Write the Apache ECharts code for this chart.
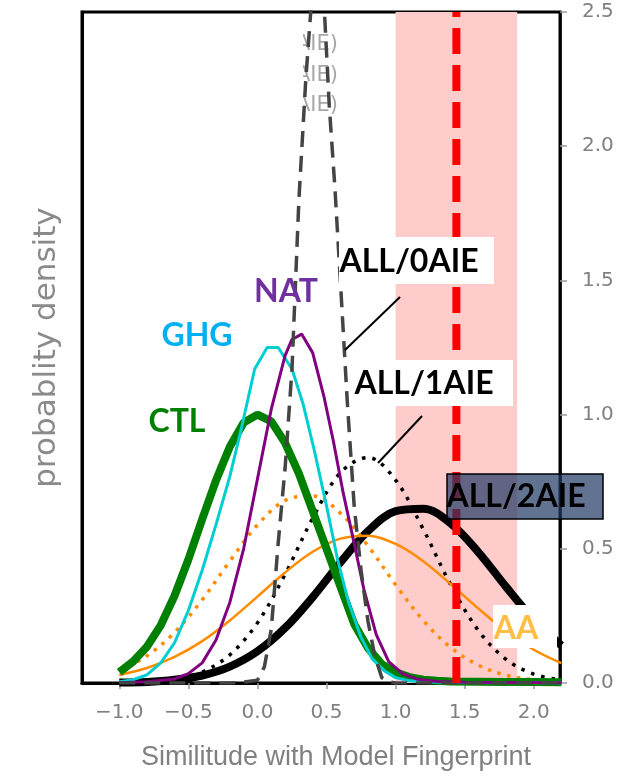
<!DOCTYPE html>
<html>
<head>
<meta charset="utf-8">
<script src="https://cdn.jsdelivr.net/npm/echarts@6/dist/echarts.min.js"></script>
<style>
html, body { margin: 0; padding: 0; background: #fff; }
#chart { width: 643px; height: 776px; }
</style>
</head>
<body>
<div id="chart"></div>
<script>
// values
var xBroad = [-1.0, -0.8, -0.6, -0.4, -0.2, 0.0, 0.2, 0.4, 0.6, 0.8, 1.0, 1.2, 1.4, 1.6, 1.8, 2.0, 2.2];
var aaSolid = [0.030, 0.056, 0.097, 0.156, 0.233, 0.322, 0.412, 0.489, 0.538, 0.549, 0.518, 0.454, 0.368, 0.277, 0.192, 0.124, 0.074];
var aaDotted = [0.045, 0.101, 0.188, 0.31, 0.454, 0.589, 0.68, 0.697, 0.633, 0.511, 0.366, 0.233, 0.132, 0.066, 0.029, 0.012, 0.004];
var all1AIE = [0.001, 0.004, 0.013, 0.041, 0.105, 0.224, 0.405, 0.614, 0.783, 0.84, 0.756, 0.573, 0.365, 0.195, 0.088, 0.033, 0.011];
var all2AIE = [0.002, 0.004, 0.012, 0.028, 0.061, 0.118, 0.205, 0.32, 0.449, 0.566, 0.64, 0.649, 0.594, 0.487, 0.358, 0.237, 0.14];

var ctlX = [-1.0, -0.9, -0.8, -0.7, -0.6, -0.5, -0.4, -0.3, -0.2, -0.1, 0.0, 0.1, 0.2, 0.3, 0.4, 0.5, 0.6, 0.7, 0.8, 0.9, 1.0, 1.1, 1.2, 1.3, 1.4, 1.6, 1.8, 2.0, 2.2];
var ctl = [0.04, 0.08, 0.135, 0.215, 0.325, 0.46, 0.61, 0.755, 0.88, 0.97, 1.0, 0.975, 0.895, 0.78, 0.64, 0.50, 0.36, 0.22, 0.13, 0.07, 0.04, 0.022, 0.012, 0.008, 0.006, 0.005, 0.004, 0.004, 0.003];

var ghgX = [-1.0, -0.9, -0.8, -0.7, -0.6, -0.5, -0.4, -0.3, -0.2, -0.12, -0.02, 0.07, 0.15, 0.25, 0.33, 0.41, 0.5, 0.58, 0.66, 0.75, 0.83, 0.92, 1.0, 1.1, 1.3, 1.6, 2.2];
var ghg = [0.005, 0.012, 0.03, 0.075, 0.15, 0.27, 0.42, 0.59, 0.77, 0.94, 1.17, 1.25, 1.25, 1.17, 1.04, 0.87, 0.66, 0.46, 0.30, 0.17, 0.09, 0.045, 0.02, 0.008, 0.003, 0.002, 0.001];

var natX = [-1.0, -0.8, -0.6, -0.5, -0.4, -0.3, -0.2, -0.1, 0.0, 0.1, 0.2, 0.25, 0.32, 0.4, 0.48, 0.55, 0.62, 0.7, 0.77, 0.86, 0.95, 1.05, 1.15, 1.3, 1.5, 2.2];
var nat = [0.001, 0.005, 0.015, 0.035, 0.075, 0.16, 0.30, 0.50, 0.76, 1.02, 1.22, 1.28, 1.30, 1.23, 1.07, 0.90, 0.71, 0.52, 0.35, 0.18, 0.08, 0.035, 0.015, 0.006, 0.003, 0.001];

var all0X = [-1.0, -0.5, -0.2, -0.1, 0.0, 0.05, 0.1, 0.15, 0.2, 0.25, 0.3, 0.35, 0.4, 0.44, 0.48, 0.52, 0.56, 0.6, 0.65, 0.7, 0.75, 0.8, 0.85, 0.9, 0.95, 1.0, 2.2];
var all0AIE = [0, 0, 0, 0.003, 0.01, 0.06, 0.2, 0.52, 0.8, 1.17, 1.8, 2.25, 2.6, 2.75, 2.55, 2.15, 1.85, 1.5, 1.05, 0.66, 0.42, 0.23, 0.1, 0.02, 0.005, 0, 0];

var observed = 1.44;          // red dashed line
var band = [1.0, 1.88];       // pink range
var xTicks = [-1.0, -0.5, 0.0, 0.5, 1.0, 1.5, 2.0];
var legendNames = ['ALL(0AIE)', 'ALL(1AIE)', 'ALL(2AIE)'];

function pairs(xs, ys) {
    return xs.map(function (x, i) { return [x, ys[i]]; });
}

function curve(name, xs, ys, color, width, type, smooth) {
    return {
        name: name,
        type: 'line',
        data: pairs(xs, ys),
        showSymbol: false,
        smooth: smooth || false,
        lineStyle: { color: color, width: width, type: type || 'solid' },
        silent: true
    };
}

var chart = echarts.init(document.getElementById('chart'));

var option = {
    animation: false,
    grid: { left: 82, right: 83, top: 12, bottom: 93, show: true, borderColor: '#000', borderWidth: 3, backgroundColor: 'transparent' },
    xAxis: {
        type: 'value',
        min: -1.27,
        max: 2.19,
        axisLine: { onZero: false, lineStyle: { color: '#000', width: 3 } },
        axisTick: { customValues: xTicks, length: 6, lineStyle: { color: '#999', width: 1.5 } },
        axisLabel: {
            customValues: xTicks,
            margin: 20,
            color: '#808080',
            fontSize: 20,
            fontFamily: 'DejaVu Sans',
            formatter: function (v) { return (v < 0 ? '\u2212' : '') + Math.abs(v).toFixed(1); }
        },
        splitLine: { show: false },
        name: 'Similitude with Model Fingerprint',
        nameLocation: 'middle',
        nameGap: 61,
        nameTextStyle: { color: '#808080', fontSize: 27, fontFamily: 'Liberation Sans', padding: [0, 0, 0, 30] }
    },
    yAxis: [{
        type: 'value',
        position: 'right',
        min: 0,
        max: 2.5,
        interval: 0.5,
        axisLine: { show: true, onZero: false, lineStyle: { color: '#000', width: 2.5 } },
        axisTick: { show: true, length: 7, lineStyle: { color: '#999', width: 1.5 } },
        axisLabel: {
            margin: 22,
            color: '#808080',
            fontSize: 20,
            fontFamily: 'DejaVu Sans',
            formatter: function (v) { return v.toFixed(1); }
        },
        splitLine: { show: false }
    }, {
        type: 'value',
        position: 'left',
        min: 0,
        max: 2.5,
        axisLine: { show: true, onZero: false, lineStyle: { color: '#000', width: 3 } },
        axisTick: { show: false },
        axisLabel: { show: false },
        splitLine: { show: false },
        name: 'probablity density',
        nameLocation: 'middle',
        nameRotate: 90,
        nameGap: 20,
        nameTextStyle: { color: '#8a8a8a', fontSize: 31, fontFamily: 'DejaVu Sans' }
    }],
    series: [
        {
            type: 'line',
            data: [],
            z: 1,
            markArea: {
                silent: true,
                itemStyle: { color: '#FFCCCC' },
                data: [[{ xAxis: band[0] }, { xAxis: band[1] }]]
            }
        },
        curve('ALL/2AIE', xBroad, all2AIE, '#000', 8, 'solid', 0.35),
        curve('ALL/1AIE', xBroad, all1AIE, '#000', 3.5, [3.5, 7], 0.35),
        curve('AA', xBroad, aaSolid, '#FF8C00', 2.5, 'solid', 0.35),
        curve('AA dotted', xBroad, aaDotted, '#FF8C00', 3.5, [3.5, 6.5], 0.35),
        curve('CTL', ctlX, ctl, '#008000', 8, 'solid', false),
        curve('GHG', ghgX, ghg, '#00CED1', 3, 'solid', false),
        curve('NAT', natX, nat, '#800080', 3, 'solid', false),
        curve('ALL/0AIE', all0X, all0AIE, '#444444', 3.5, [16, 9], false),
        {
            type: 'line',
            data: [[observed, 0], [observed, 2.5]],
            showSymbol: false,
            silent: true,
            lineStyle: { color: '#FF0000', width: 8, type: [26, 11] }
        }
    ],
    graphic: [
        // legend that was covered over in the original
        { type: 'text', z: 0, style: { text: legendNames[0], x: 338, y: 45, align: 'right', verticalAlign: 'middle', fill: '#000', font: '21px "DejaVu Sans"' } },
        { type: 'text', z: 0, style: { text: legendNames[1], x: 338, y: 76, align: 'right', verticalAlign: 'middle', fill: '#000', font: '21px "DejaVu Sans"' } },
        { type: 'text', z: 0, style: { text: legendNames[2], x: 338, y: 106, align: 'right', verticalAlign: 'middle', fill: '#000', font: '21px "DejaVu Sans"' } },
        { type: 'rect', z: 1, shape: { x: 180, y: 27, width: 123, height: 95 }, style: { fill: '#fff' } },
        { type: 'rect', z: 3, shape: { x: 285, y: 27, width: 61, height: 285 }, style: { fill: 'rgba(255,255,255,0.65)' } },

        // annotation boxes
        { type: 'rect', z: 10, shape: { x: 339, y: 237, width: 155, height: 47 }, style: { fill: '#fff' } },
        { type: 'rect', z: 10, shape: { x: 352, y: 360, width: 161, height: 46 }, style: { fill: '#fff' } },
        { type: 'rect', z: 10, shape: { x: 493, y: 605, width: 64, height: 43 }, style: { fill: '#fff' } },
        { type: 'rect', z: 12, shape: { x: 447, y: 474, width: 156, height: 45 }, style: { fill: 'rgba(31,56,100,0.7)', stroke: '#000', lineWidth: 1.5 } },

        { type: 'line', z: 11, shape: { x1: 400, y1: 297, x2: 345, y2: 350 }, style: { stroke: '#000', lineWidth: 2 } },
        { type: 'line', z: 11, shape: { x1: 422, y1: 416, x2: 378, y2: 463 }, style: { stroke: '#000', lineWidth: 2 } },

        { type: 'text', z: 11, style: { text: 'ALL/0AIE', x: 409, y: 262, align: 'center', verticalAlign: 'middle', fill: '#000', font: 'bold 32px Lato' } },
        { type: 'text', z: 11, style: { text: 'ALL/1AIE', x: 424, y: 384, align: 'center', verticalAlign: 'middle', fill: '#000', font: 'bold 32px Lato' } },
        { type: 'text', z: 13, style: { text: 'ALL/2AIE', x: 516, y: 497, align: 'center', verticalAlign: 'middle', fill: '#000', font: 'bold 32px Lato' } },
        { type: 'text', z: 11, style: { text: 'NAT', x: 286, y: 292, align: 'center', verticalAlign: 'middle', fill: '#7030A0', font: 'bold 32px Lato' } },
        { type: 'text', z: 11, style: { text: 'GHG', x: 197, y: 336, align: 'center', verticalAlign: 'middle', fill: '#00B0F0', font: 'bold 32px Lato' } },
        { type: 'text', z: 11, style: { text: 'CTL', x: 177, y: 422, align: 'center', verticalAlign: 'middle', fill: '#008000', font: 'bold 32px Lato' } },
        { type: 'text', z: 11, style: { text: 'AA', x: 516, y: 629, align: 'center', verticalAlign: 'middle', fill: '#FFBF47', font: 'bold 32px Lato' } }
    ]
};

chart.setOption(option);
</script>
</body>
</html>
